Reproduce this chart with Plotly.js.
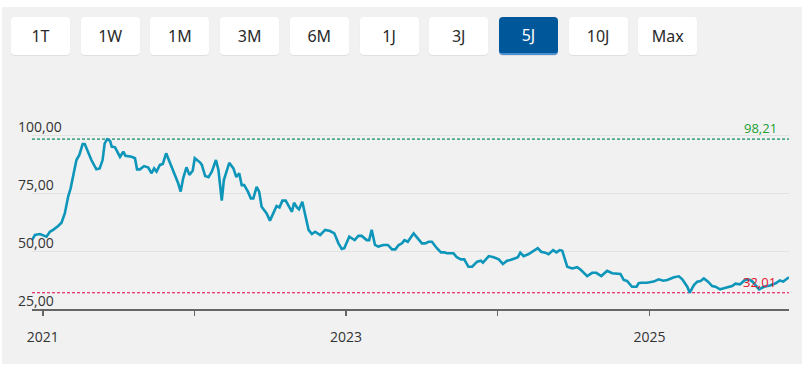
<!DOCTYPE html>
<html>
<head>
<meta charset="utf-8">
<script src="https://cdn.plot.ly/plotly-3.0.1.min.js"></script>
<style>
  html, body { margin: 0; padding: 0; background: #ffffff; width: 805px; height: 370px; overflow: hidden; }
  #panel { position: absolute; left: 2px; top: 7px; width: 800px; height: 357px; background: #f1f1f1; }
  #buttons { position: absolute; left: 0; top: 0; width: 805px; height: 60px; z-index: 3; }
  .btn { position: absolute; top: 17px; width: 59px; height: 38px; background: #ffffff; border-radius: 4px;
         box-shadow: 0 1px 1px rgba(0,0,0,0.08); font-family: "Noto Sans", "Open Sans", sans-serif; font-size: 16px;
         color: #2a2a2a; display: flex; align-items: center; justify-content: center; box-sizing: border-box; }
  .btn.active { background: #00589b; color: #ffffff; border-bottom: 2px solid #4a8fd0; }
  #chart { position: absolute; left: 0; top: 0; width: 805px; height: 370px; z-index: 2; }
</style>
</head>
<body>
<div id="panel"></div>
<div id="chart"></div>
<div id="buttons"></div>
<script>
// ---- data ----
const rangeButtons = ['1T','1W','1M','3M','6M','1J','3J','5J','10J','Max'];
const activeButton = '5J';

const dates = [
'2020-12-06','2020-12-13','2020-12-25','2021-01-02','2021-01-10','2021-01-18','2021-01-26','2021-02-07','2021-02-15','2021-02-23',
'2021-03-03','2021-03-09','2021-03-17','2021-03-23','2021-03-30','2021-04-07','2021-04-12','2021-04-20','2021-04-28','2021-05-10',
'2021-05-18','2021-05-25','2021-05-30','2021-06-05','2021-06-12','2021-06-16','2021-06-24','2021-07-06','2021-07-14','2021-07-19',
'2021-08-03','2021-08-11','2021-08-16','2021-08-23','2021-09-02','2021-09-12','2021-09-20','2021-09-26','2021-10-02','2021-10-10',
'2021-10-17','2021-10-25','2021-11-02','2021-11-10','2021-11-15','2021-11-23','2021-11-29','2021-12-05','2021-12-13','2021-12-20',
'2021-12-28','2022-01-02','2022-01-15','2022-01-19','2022-01-27','2022-02-04','2022-02-12','2022-02-22','2022-02-28','2022-03-08',
'2022-03-13','2022-03-26','2022-04-05','2022-04-12','2022-04-19','2022-04-25','2022-05-01','2022-05-10','2022-05-17','2022-05-23',
'2022-05-31','2022-06-06','2022-06-12','2022-06-24','2022-07-02','2022-07-10','2022-07-18','2022-07-25','2022-08-01','2022-08-09',
'2022-08-15','2022-08-24','2022-08-29','2022-09-05','2022-09-10','2022-09-18','2022-09-25','2022-10-03','2022-10-11','2022-10-19',
'2022-10-31','2022-11-12','2022-11-24','2022-12-04','2022-12-14','2022-12-22','2022-12-28','2023-01-09','2023-01-15','2023-01-22',
'2023-01-31','2023-02-08','2023-02-20','2023-02-26','2023-03-04','2023-03-12','2023-03-20','2023-04-01','2023-04-12','2023-04-22',
'2023-04-30','2023-05-08','2023-05-16','2023-05-22','2023-05-30','2023-06-13','2023-06-21','2023-07-03','2023-07-11','2023-07-19',
'2023-07-27','2023-08-08','2023-08-18','2023-08-26','2023-09-01','2023-09-17','2023-09-25','2023-10-05','2023-10-13','2023-10-23',
'2023-11-01','2023-11-13','2023-11-22','2023-11-27','2023-12-11','2023-12-23','2024-01-04','2024-01-14','2024-01-24','2024-02-01',
'2024-02-13','2024-02-19','2024-02-25','2024-03-04','2024-03-16','2024-03-28','2024-04-07','2024-04-15','2024-04-25','2024-05-03',
'2024-05-14','2024-05-22','2024-05-30','2024-06-05','2024-06-17','2024-06-29','2024-07-11','2024-07-20','2024-08-04','2024-08-16',
'2024-08-26','2024-09-07','2024-09-21','2024-10-03','2024-10-15','2024-10-23','2024-10-31','2024-11-08','2024-11-20','2024-12-01',
'2024-12-06','2024-12-12','2024-12-26','2025-01-11','2025-01-23','2025-02-03','2025-02-13','2025-03-01','2025-03-13','2025-03-21',
'2025-04-02','2025-04-08','2025-04-18','2025-04-26','2025-05-04','2025-05-12','2025-05-22','2025-06-01','2025-06-09','2025-06-20',
'2025-06-29','2025-07-11','2025-07-19','2025-07-27','2025-08-07','2025-08-18','2025-08-28','2025-09-06','2025-09-18','2025-09-22',
'2025-10-04','2025-10-18','2025-11-01','2025-11-11','2025-11-19','2025-12-03'
];

const prices = [
54.7,56.9,57.3,56.9,56.2,58.3,59.1,60.8,62.2,66.2,
73.4,77.0,84.9,89.2,91.4,96.1,96.1,92.8,89.2,85.2,
85.6,89.2,96.4,98.21,97.5,95.0,94.7,90.6,92.8,91.0,
90.6,90.0,85.2,85.2,86.6,86.0,83.5,85.6,84.2,87.1,
87.5,92.1,88.5,84.9,83.5,79.2,75.6,81.3,86.1,82.8,
84.6,90.0,88.1,87.1,82.3,81.8,84.2,89.2,84.9,71.7,
80.6,88.0,85.6,81.9,83.5,78.4,78.4,75.6,72.7,72.7,
77.7,75.6,69.1,66.2,63.1,66.2,69.4,68.8,71.7,71.7,
69.8,66.9,70.8,68.8,68.0,71.2,65.5,59.1,57.3,58.3,
56.9,59.1,58.6,57.6,53.3,50.9,51.2,56.2,55.5,54.7,
56.5,56.5,54.7,54.7,59.1,52.6,51.9,52.6,52.6,50.7,
50.7,52.6,53.3,54.7,54.0,57.6,55.9,53.3,53.3,54.0,
54.0,51.2,49.4,49.4,49.0,49.0,47.3,46.4,46.4,43.2,
43.2,45.4,45.8,45.0,47.8,47.3,46.4,44.4,45.8,46.1,
46.9,47.3,49.3,47.8,48.7,50.1,51.2,49.7,49.3,48.6,
50.4,49.4,50.4,50.1,43.2,42.5,43.0,41.8,39.2,40.6,
40.6,39.2,41.5,40.4,40.4,40.1,37.5,37.1,34.6,34.6,
36.1,36.3,36.3,36.8,37.8,37.2,37.5,38.7,39.1,37.8,
34.6,32.01,35.3,36.8,37.1,38.2,36.8,34.9,34.6,33.5,
33.9,34.4,34.9,35.9,35.6,37.4,37.8,36.8,34.6,33.5,
34.6,35.1,36.1,37.3,36.8,38.7
];

const yTickVals = [25, 50, 75, 100, 125];
const yTickText = ['25,00', '50,00', '75,00', '100,00', ''];
const xTickVals = ['2021-01-01', '2022-01-01', '2023-01-01', '2024-01-01', '2025-01-01'];
const xTickText = ['2021', '', '2023', '', '2025'];

const highValue = 98.21;
const lowValue = 32.01;

// ---- buttons (HTML) ----
const btnWrap = document.getElementById('buttons');
rangeButtons.forEach(function (label, i) {
  const b = document.createElement('div');
  b.className = 'btn' + (label === activeButton ? ' active' : '');
  b.style.left = (11 + i * 69.7) + 'px';
  b.textContent = label;
  btnWrap.appendChild(b);
});

if (dates.length !== prices.length) { throw new Error('length mismatch ' + dates.length + ' vs ' + prices.length); }

function fmt(v) { return v.toFixed(2).replace('.', ','); }

const trace = {
  x: dates, y: prices, type: 'scatter', mode: 'lines',
  line: { color: '#0d96b9', width: 2.6, shape: 'linear' },
  hoverinfo: 'skip'
};

// y tick labels drawn left-aligned just above each gridline (as in the reference)
const yLabelAnnotations = yTickVals.map(function (v, i) {
  return { xref: 'paper', x: 0, xanchor: 'left', xshift: -15, yref: 'y', y: v, yanchor: 'bottom', yshift: -2,
           text: yTickText[i], showarrow: false, borderpad: 0,
           font: { size: 14, color: '#333333', family: 'Open Sans, Noto Sans, sans-serif' } };
}).filter(function (a) { return a.text !== ''; });

const layout = {
  width: 805, height: 370,
  margin: { l: 32, r: 16, t: 77, b: 61 },
  paper_bgcolor: 'rgba(0,0,0,0)',
  plot_bgcolor: 'rgba(0,0,0,0)',
  showlegend: false,
  font: { family: 'Open Sans, Noto Sans, sans-serif', color: '#333333', size: 14 },
  xaxis: {
    type: 'date',
    range: [dates[0], dates[dates.length - 1]],
    tickmode: 'array', tickvals: xTickVals, ticktext: xTickText,
    showgrid: false, zeroline: false,
    showline: true, linecolor: '#666666', linewidth: 1.5,
    ticks: 'outside', ticklen: 5, tickwidth: 1.5, tickcolor: '#666666',
    ticklabelstandoff: 10,
    tickfont: { size: 14, color: '#333333' },
    fixedrange: true
  },
  yaxis: {
    range: [25, 125],
    tickmode: 'array', tickvals: yTickVals,
    showticklabels: false,
    showgrid: true, gridcolor: '#e2e2e2', gridwidth: 1,
    zeroline: false, showline: false, ticks: '',
    fixedrange: true
  },
  shapes: [
    { type: 'line', xref: 'paper', x0: 0, x1: 1, yref: 'y', y0: highValue, y1: highValue,
      line: { color: '#4ea88f', width: 1.8, dash: '3px,2px' }, layer: 'below' },
    { type: 'line', xref: 'paper', x0: 0, x1: 1, yref: 'y', y0: lowValue, y1: lowValue,
      line: { color: '#e2004f', width: 1.2, dash: '3px,2px' }, layer: 'below' }
  ],
  annotations: yLabelAnnotations.concat([
    { xref: 'paper', x: 1, xanchor: 'right', xshift: -11, yref: 'y', y: highValue, yanchor: 'bottom',
      text: fmt(highValue), showarrow: false, font: { size: 13, color: '#21a032' }, borderpad: 0, yshift: 1 },
    { xref: 'paper', x: 1, xanchor: 'right', xshift: -12, yref: 'y', y: lowValue, yanchor: 'bottom',
      text: fmt(lowValue), showarrow: false, font: { size: 13, color: '#e0142a' }, borderpad: 0, yshift: 1 }
  ])
};

Plotly.newPlot('chart', [trace], layout, { displayModeBar: false, staticPlot: true });
</script>
</body>
</html>
